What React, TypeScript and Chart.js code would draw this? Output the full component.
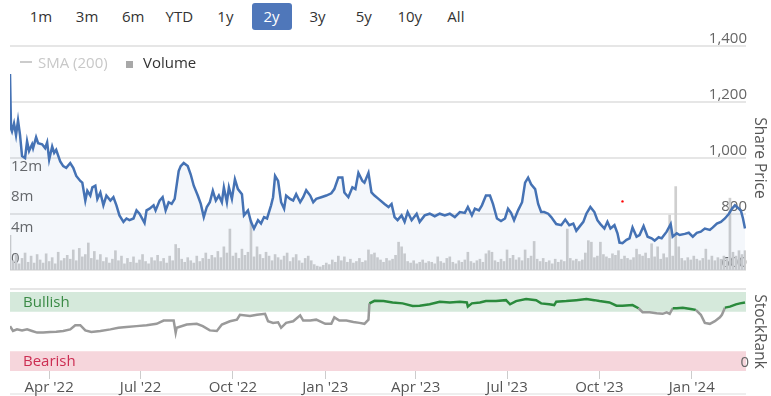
import React, { useEffect, useRef } from 'react';
import { Chart, registerables } from 'chart.js';

Chart.register(...registerables);

// ---------- data ----------
const RANGE_BUTTONS = ['1m', '3m', '6m', 'YTD', '1y', '2y', '3y', '5y', '10y', 'All'];
const SELECTED_RANGE = '2y';

// x values are days since 21 Feb 2022
const X_MAX_DAY = 733;
const X_TICK_DAYS = [39, 130, 222, 314, 404, 495, 587, 679];
const X_TICK_LABELS = ["Apr '22", "Jul '22", "Oct '22", "Jan '23", "Apr '23", "Jul '23", "Oct '23", "Jan '24"];

const PRICE_TICKS = [600, 800, 1000, 1200, 1400];
const VOLUME_TICKS = [0, 4, 8, 12];

const PRICE_DAYS = [
  0, 1, 2, 4, 6, 8, 10, 12, 15, 17,
  19, 22, 23, 26, 28, 32, 35, 37, 39, 42,
  44, 46, 50, 53, 56, 60, 63, 66, 70, 72,
  75, 77, 80, 82, 85, 87, 90, 93, 96, 100,
  103, 106, 109, 113, 116, 119, 123, 126, 129, 134,
  136, 139, 143, 145, 149, 152, 155, 158, 161, 164,
  168, 170, 173, 177, 180, 183, 187, 190, 193, 196,
  199, 202, 205, 208, 211, 213, 216, 218, 221, 224,
  227, 231, 233, 237, 240, 243, 247, 250, 253, 256,
  260, 262, 264, 267, 270, 273, 275, 279, 282, 285,
  289, 292, 295, 299, 302, 305, 310, 315, 320, 323,
  327, 331, 333, 337, 341, 344, 347, 351, 353, 357,
  360, 363, 367, 373, 377, 380, 383, 386, 390, 393,
  396, 400, 405, 408, 413, 418, 423, 428, 433, 438,
  443, 448, 453, 456, 460, 463, 467, 470, 474, 478,
  481, 485, 489, 493, 496, 499, 502, 506, 510, 513,
  516, 519, 523, 526, 529, 532, 536, 539, 544, 549,
  553, 557, 561, 564, 567, 571, 574, 578, 582, 585,
  588, 592, 595, 598, 602, 605, 607, 610, 614, 617,
  620, 624, 627, 631, 635, 639, 642, 646, 649, 654,
  658, 660, 664, 667, 672, 676, 680, 684, 688, 692,
  697, 700, 704, 708, 712, 716, 719, 722, 726, 728,
  730, 732,
];
const PRICE_VALUES = [
  1300, 1105, 1095, 1123, 1082, 1134, 1082, 1007, 1000, 1060,
  1025, 1049, 1035, 1074, 1053, 1049, 1035, 1056, 994, 1041,
  1018, 1029, 988, 971, 965, 982, 965, 936, 918, 912,
  848, 883, 866, 895, 901, 854, 877, 831, 866, 848,
  860, 831, 795, 772, 784, 778, 784, 813, 801, 768,
  813, 819, 831, 813, 848, 860, 813, 842, 836, 854,
  953, 971, 982, 971, 941, 901, 866, 836, 789, 825,
  842, 883, 848, 866, 842, 895, 842, 895, 854, 924,
  889, 871, 795, 813, 772, 748, 778, 766, 789, 784,
  831, 860, 936, 918, 842, 819, 866, 854, 848, 871,
  842, 860, 885, 866, 842, 854, 860, 866, 874, 889,
  930, 930, 877, 860, 895, 889, 947, 918, 912, 947,
  877, 866, 854, 836, 825, 836, 789, 778, 795, 772,
  807, 778, 801, 772, 795, 801, 792, 801, 795, 801,
  789, 807, 804, 825, 795, 819, 813, 831, 866, 866,
  836, 784, 775, 784, 819, 804, 778, 813, 842, 912,
  930, 906, 889, 836, 807, 807, 801, 789, 764, 760,
  780, 760, 766, 740, 754, 772, 801, 825, 807, 778,
  764, 748, 772, 748, 760, 731, 698, 696, 708, 713,
  752, 719, 725, 757, 719, 713, 705, 717, 713, 737,
  764, 719, 731, 725, 729, 733, 719, 733, 737, 748,
  743, 752, 766, 772, 784, 801, 819, 831, 819, 811,
  784, 748,
];

// volume in millions, one bar every 3 days starting at day 0
const VOLUME_STEP_DAYS = 3;
const VOLUMES = [
  4.5, 1.2, 2.0, 0.8, 1.5, 2.2, 1.0, 1.8, 0.9, 2.0,
  1.3, 0.9, 2.1, 1.1, 1.6, 0.8, 2.3, 1.2, 1.5, 1.9,
  1.4, 2.6, 1.2, 2.8, 1.7, 2.0, 3.5, 1.5, 2.4, 1.3,
  2.0, 1.1, 1.6, 0.9, 1.4, 2.5, 1.2, 1.8, 0.8, 1.5,
  1.0, 1.7, 0.9, 1.3, 2.0, 1.1, 0.8, 1.6, 1.2, 1.9,
  1.1, 1.5, 0.9, 1.8, 1.2, 3.3, 2.8, 1.4, 1.0, 1.6,
  1.2, 0.9, 1.8, 1.1, 1.5, 2.2, 1.4, 1.9, 1.6, 2.4,
  1.6, 3.0, 2.2, 5.3, 1.8, 2.2, 1.5, 2.7, 1.9, 2.3,
  6.4, 1.7, 3.0, 2.0, 1.5, 2.3, 1.8, 1.2, 2.0, 1.6,
  1.3, 1.8, 2.2, 1.1, 1.6, 2.0, 1.2, 0.9, 1.5, 1.8,
  1.2, 0.7, 0.5, 0.4, 0.6, 0.9, 0.7, 1.3, 1.0, 1.8,
  1.2, 1.7, 1.0, 1.4, 0.9, 1.1, 1.5, 1.0, 1.2, 2.6,
  2.0, 2.2, 1.6, 1.3, 1.0, 1.5, 1.2, 1.4, 1.9, 3.6,
  3.0, 2.1, 1.1, 0.9, 1.2, 0.8, 1.0, 1.3, 0.9, 1.1,
  1.0, 0.8, 1.7, 1.1, 0.9, 1.5, 1.7, 1.0, 0.8, 1.2,
  1.0, 1.3, 2.3, 1.1, 0.9, 1.2, 1.4, 1.0, 2.1, 2.5,
  2.3, 1.2, 1.0, 1.4, 1.1, 2.6, 1.5, 1.9, 1.3, 1.6,
  1.2, 2.6, 1.5, 1.8, 3.7, 1.4, 1.1, 1.5, 1.0, 1.2,
  0.8, 1.4, 1.0, 1.3, 1.1, 5.3, 1.5, 1.2, 1.4, 1.1,
  1.3, 2.2, 3.8, 3.6, 1.6, 1.8, 3.6, 2.0, 1.7, 1.5,
  2.1, 1.9, 2.5, 1.4, 1.8, 1.5, 1.3, 1.6, 2.7, 2.0,
  1.8, 2.2, 1.5, 3.4, 1.7, 3.0, 1.4, 2.1, 1.6, 7.1,
  1.8, 10.8, 3.0, 1.5, 1.2, 1.6, 1.3, 1.8, 1.4, 1.2,
  1.5, 2.7, 1.3, 1.8, 1.2, 1.6, 1.4, 1.8, 1.5, 9.3,
  2.3, 1.8, 2.5, 2.0, 2.5,
];

const RANK_DAYS = [
  0, 3, 7, 12, 17, 22, 27, 33, 40, 46,
  53, 60, 65, 70, 75, 81, 90, 100, 108, 116,
  126, 136, 146, 153, 163, 165, 166, 176, 186, 192,
  199, 206, 211, 219, 226, 229, 239, 246, 254, 257,
  262, 267, 270, 275, 282, 289, 292, 299, 305, 314,
  320, 323, 328, 335, 342, 348, 353, 357, 358, 363,
  372, 381, 391, 401, 408, 418, 428, 438, 448, 455,
  456, 460, 468, 474, 484, 494, 498, 504, 514, 524,
  529, 537, 542, 544, 554, 564, 574, 582, 587, 597,
  604, 610, 620, 626, 630, 637, 644, 650, 654, 657,
  660, 664, 670, 678, 683, 688, 692, 697, 702, 707,
  709, 712, 717, 723, 727, 732,
];
const RANK_VALUES = [
  56.8, 50.6, 52.7, 51.4, 52.7, 50.6, 48.6, 48.6, 49.4, 49.8,
  50.6, 52.7, 58, 58, 51.4, 49.4, 50.6, 52.7, 54.7, 55.6,
  56.8, 58, 59.7, 63.8, 63.8, 48.6, 54.7, 58.8, 59.7, 56.8,
  51.4, 50.6, 58.8, 63, 65, 71.2, 69.5, 71.2, 72.4, 63,
  60.9, 61.7, 54.7, 60.9, 63, 70.4, 63.8, 63.8, 65, 59.7,
  59.7, 67.9, 63.8, 63.8, 62.1, 60.9, 59.7, 65, 85.6, 88.9,
  88.5, 86.8, 85.6, 82.3, 82.7, 84.4, 87.7, 86.8, 87.7, 86.8,
  81.5, 85.6, 86.8, 88.5, 88.5, 89.7, 84.4, 88.5, 91, 89.7,
  85.6, 84.4, 83.5, 87.7, 88.5, 89.7, 91, 89.7, 88.5, 86.8,
  82.7, 82.7, 83.5, 79.4, 74.5, 74.5, 73.2, 72.4, 74.3, 72.4,
  79.4, 79.4, 80.2, 78.6, 77.4, 71.2, 60.9, 59.7, 63, 67.9,
  71.2, 80.2, 81.5, 84.4, 85.6, 86.8,
];
const BULLISH_FROM = 75;
const BEARISH_TO = 25;
const RANK_TICKS = [0];

const MARKER_DAY = 610;
const MARKER_PRICE = 845;

// ---------- styles ----------
const FONT = '"Open Sans", "Noto Sans", sans-serif';
const BLUE = '#4572b4';

const rankDecor = {
  id: 'rankDecor',
  beforeDraw(chart: any) {
    const { ctx, chartArea } = chart;
    const { left, right, bottom, top } = chartArea;
    const y = chart.scales.rank;
    ctx.save();
    const bTop = y.getPixelForValue(100);
    const bBot = y.getPixelForValue(BULLISH_FROM);
    ctx.fillStyle = '#d5e9db';
    ctx.fillRect(left, bTop, right - left, bBot - bTop);
    const rTop = y.getPixelForValue(BEARISH_TO);
    const rBot = y.getPixelForValue(0);
    ctx.fillStyle = '#f6d6dc';
    ctx.fillRect(left, rTop, right - left, rBot - rTop);
    ctx.font = '15px ' + FONT;
    ctx.textBaseline = 'middle';
    ctx.textAlign = 'left';
    ctx.fillStyle = '#3a8a45';
    ctx.fillText('Bullish', left + 13, (bTop + bBot) / 2 + 1);
    ctx.fillStyle = '#cc2d52';
    ctx.fillText('Bearish', left + 13, (rTop + rBot) / 2 + 1);
    ctx.strokeStyle = '#e6e6e6';
    ctx.lineWidth = 2;
    ctx.beginPath();
    ctx.moveTo(left, top - 3);
    ctx.lineTo(right, top - 3);
    ctx.stroke();
    ctx.beginPath();
    ctx.strokeStyle = '#eeeeee';
    ctx.moveTo(left, bottom + 23);
    ctx.lineTo(right, bottom + 23);
    ctx.stroke();
    ctx.restore();
  },
};

export default function App() {
  const priceRef = useRef<HTMLCanvasElement | null>(null);
  const rankRef = useRef<HTMLCanvasElement | null>(null);

  useEffect(() => {
    const priceData = PRICE_DAYS.map((d, i) => ({ x: d, y: PRICE_VALUES[i] }));
    const volumeData = VOLUMES.map((v, i) => ({ x: i * VOLUME_STEP_DAYS, y: v }));
    const rankData = RANK_DAYS.map((d, i) => ({ x: d, y: RANK_VALUES[i] }));

    const priceTicks = (s: any) => { s.ticks = PRICE_TICKS.map((v) => ({ value: v })); };

    const priceChart = new Chart(priceRef.current as HTMLCanvasElement, {
      type: 'line',
      data: {
        datasets: [
          {
            type: 'line',
            label: 'Price',
            data: priceData,
            yAxisID: 'price',
            borderColor: BLUE,
            borderWidth: 2.5,
            pointRadius: 0,
            tension: 0,
            fill: 'start',
            backgroundColor: 'rgba(69,114,180,0.06)',
            order: 1,
          } as any,
          {
            type: 'scatter',
            label: 'marker',
            data: [{ x: MARKER_DAY, y: MARKER_PRICE }],
            yAxisID: 'price',
            pointRadius: 1.2,
            borderWidth: 0,
            backgroundColor: '#ff0000',
            order: 0,
          } as any,
          {
            type: 'bar',
            label: 'Volume',
            data: volumeData,
            yAxisID: 'volume',
            backgroundColor: '#cfcfcf',
            barThickness: 2,
            order: 2,
          } as any,
        ],
      },
      options: {
        animation: false,
        responsive: false,
        maintainAspectRatio: false,
        layout: { padding: { top: 22, bottom: 6, left: 0, right: 0 } },
        plugins: { legend: { display: false }, tooltip: { enabled: false } },
        scales: {
          x: { type: 'linear', min: 0, max: X_MAX_DAY, offset: false, display: false },
          priceGrid: {
            type: 'linear',
            position: 'right',
            min: 600,
            max: 1400,
            afterBuildTicks: priceTicks,
            afterFit: (s: any) => { s.width = 0; },
            ticks: { display: false },
            grid: { color: '#e6e6e6', lineWidth: 2, drawTicks: false },
            border: { display: false },
          },
          price: {
            type: 'linear',
            position: 'right',
            min: 600,
            max: 1400,
            z: 1,
            afterBuildTicks: priceTicks,
            afterFit: (s: any) => { s.width = 25; },
            ticks: {
              mirror: true,
              padding: 1,
              labelOffset: -7,
              color: '#666666',
              font: { family: FONT, size: 15 },
              callback: (v: any) => Number(v).toLocaleString('en-US'),
            },
            grid: { display: false },
            border: { display: false },
            title: {
              display: true,
              text: 'Share Price',
              color: '#555555',
              font: { family: FONT, size: 15.5 },
              padding: { top: 2, bottom: 4 },
            },
          },
          volume: {
            type: 'linear',
            position: 'left',
            min: 0,
            max: 29,
            z: 1,
            afterBuildTicks: (s: any) => { s.ticks = VOLUME_TICKS.map((v) => ({ value: v })); },
            afterFit: (s: any) => { s.width = 10; },
            ticks: {
              mirror: true,
              padding: 1,
              labelOffset: -11,
              color: '#666666',
              font: { family: FONT, size: 15 },
              callback: (v: any) => (Number(v) === 0 ? '0' : `${v}m`),
            },
            grid: { display: false },
            border: { display: false },
          },
        },
      } as any,
    });

    const rankChart = new Chart(rankRef.current as HTMLCanvasElement, {
      type: 'line',
      data: {
        datasets: [
          {
            label: 'StockRank',
            data: rankData,
            yAxisID: 'rank',
            borderColor: '#9a9a9a',
            borderWidth: 2.5,
            pointRadius: 0,
            tension: 0,
            segment: {
              borderColor: (ctx: any) =>
                ctx.p0.parsed.y >= BULLISH_FROM && ctx.p1.parsed.y >= BULLISH_FROM ? '#2a8a3c' : '#9a9a9a',
            },
          } as any,
        ],
      },
      options: {
        animation: false,
        responsive: false,
        maintainAspectRatio: false,
        layout: { padding: { top: 10, bottom: 0, left: 10, right: 0 } },
        plugins: { legend: { display: false }, tooltip: { enabled: false } },
        scales: {
          x: {
            type: 'linear',
            min: 0,
            max: X_MAX_DAY,
            offset: false,
            afterBuildTicks: (s: any) => { s.ticks = X_TICK_DAYS.map((v) => ({ value: v })); },
            afterFit: (s: any) => { s.height = 25; },
            ticks: {
              autoSkip: false,
              maxRotation: 0,
              padding: 0,
              color: '#555555',
              font: { family: FONT, size: 15 },
              callback: (_v: any, i: number) => X_TICK_LABELS[i],
            },
            grid: { drawOnChartArea: false, drawTicks: true, tickLength: 8, color: '#cccccc' },
            border: { display: false },
          },
          rank: {
            type: 'linear',
            position: 'right',
            min: 0,
            max: 100,
            afterBuildTicks: (s: any) => { s.ticks = RANK_TICKS.map((v) => ({ value: v })); },
            afterFit: (s: any) => { s.width = 25; },
            ticks: {
              mirror: true,
              padding: 3,
              labelOffset: -8,
              color: '#666666',
              font: { family: FONT, size: 15 },
            },
            grid: { display: false },
            border: { display: false },
            title: {
              display: true,
              text: 'StockRank',
              color: '#555555',
              font: { family: FONT, size: 15.5 },
              padding: { top: 2, bottom: 4 },
            },
          },
        },
      } as any,
      plugins: [rankDecor],
    });

    return () => {
      priceChart.destroy();
      rankChart.destroy();
    };
  }, []);

  return (
    <div
      style={{
        position: 'absolute',
        left: 0,
        top: 0,
        width: 771,
        height: 396,
        overflow: 'hidden',
        background: '#ffffff',
        fontFamily: FONT,
      }}
    >
      {RANGE_BUTTONS.map((b, i) => {
        const sel = b === SELECTED_RANGE;
        return (
          <div
            key={b}
            style={{
              position: 'absolute',
              left: 21 + i * 46.1,
              top: 3,
              width: 40,
              height: 27,
              lineHeight: '27px',
              textAlign: 'center',
              fontSize: 15,
              color: sel ? '#ffffff' : '#333333',
              background: sel ? '#4f77ba' : 'transparent',
              borderRadius: 3,
            }}
          >
            {b}
          </div>
        );
      })}
      <canvas ref={priceRef} width={771} height={256} style={{ position: 'absolute', left: 0, top: 24 }} />
      <canvas ref={rankRef} width={771} height={116} style={{ position: 'absolute', left: 0, top: 280 }} />
      <div style={{ position: 'absolute', left: 20, top: 61, width: 12, height: 1.5, background: '#cccccc' }} />
      <div style={{ position: 'absolute', left: 38, top: 51, fontSize: 15, lineHeight: '22px', color: '#c8c8c8', whiteSpace: 'nowrap' }}>
        SMA (200)
      </div>
      <div style={{ position: 'absolute', left: 126, top: 61, width: 7, height: 7, background: '#a8a8a8' }} />
      <div style={{ position: 'absolute', left: 143, top: 51, fontSize: 15, lineHeight: '22px', color: '#333333', whiteSpace: 'nowrap' }}>
        Volume
      </div>
    </div>
  );
}
